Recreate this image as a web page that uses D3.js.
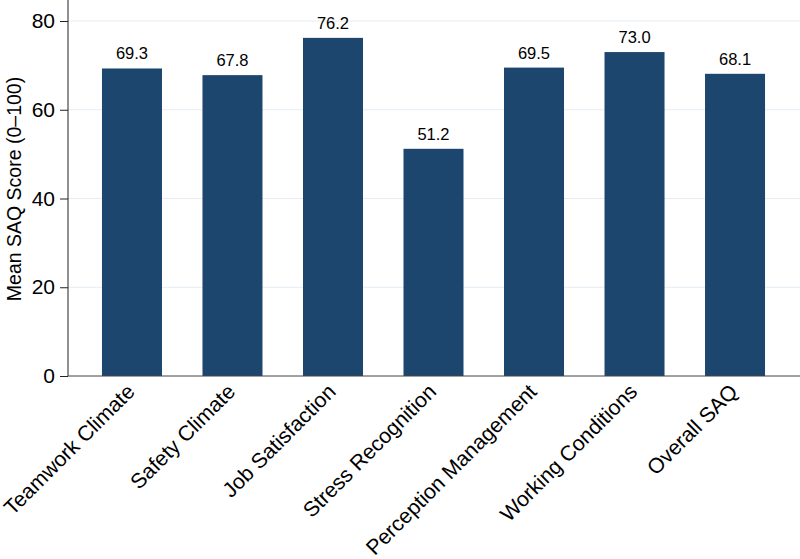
<!DOCTYPE html>
<html>
<head>
<meta charset="utf-8">
<script src="https://cdn.jsdelivr.net/npm/d3@7"></script>
<style>
  body { margin: 0; background: #fff; }
  svg text { font-family: "Liberation Sans", Arial, sans-serif; fill: #000; }
</style>
</head>
<body>
<svg class="chart" width="800" height="559"></svg>
<script>
var categories = ["Teamwork Climate", "Safety Climate", "Job Satisfaction", "Stress Recognition",
  "Perception Management", "Working Conditions", "Overall SAQ"];
var scores = [69.3, 67.8, 76.2, 51.2, 69.5, 73.0, 68.1];
var yTicks = [0, 20, 40, 60, 80];

var width = 800,
  height = 559,
  margin = { left: 68, right: 1, top: 0, bottom: 183 };

var chart = d3.select(".chart");

var x = d3.scaleBand()
  .domain(categories)
  .range([margin.left, width - margin.right])
  .paddingInner(0.403)
  .paddingOuter(0.338);

var y = d3.scaleLinear()
  .domain([0, 80])
  .range([376, 21]);

// grid lines
chart.append("g")
  .selectAll("line")
  .data(yTicks.filter(function (d) { return d > 0; }))
  .enter().append("line")
  .attr("x1", margin.left)
  .attr("x2", width)
  .attr("y1", function (d) { return y(d); })
  .attr("y2", function (d) { return y(d); })
  .attr("stroke", "#e4edf4")
  .attr("stroke-width", 1);

chart.append("g")
  .selectAll("rect")
  .data(scores)
  .enter().append("rect")
  .attr("x", function (d, i) { return x(categories[i]); })
  .attr("width", x.bandwidth())
  .attr("y", function (d) { return y(d); })
  .attr("height", function (d) { return y(0) - y(d); })
  .attr("fill", "#1d466e");

chart.append("g")
  .selectAll("text")
  .data(scores)
  .enter().append("text")
  .attr("x", function (d, i) { return x(categories[i]) + x.bandwidth() / 2; })
  .attr("y", function (d) { return y(d) - 9; })
  .attr("text-anchor", "middle")
  .style("font-size", "16.5px")
  .text(function (d) { return d.toFixed(1); });

// y axis
var yAxis = chart.append("g")
  .attr("transform", "translate(" + margin.left + ",0)")
  .call(d3.axisLeft(y).tickValues(yTicks).tickSize(8).tickPadding(5));
yAxis.select(".domain").attr("d", "M0,0V" + y(0)).attr("stroke", "#222");
yAxis.selectAll(".tick line").attr("stroke", "#222");
yAxis.selectAll(".tick text").style("font-size", "21px").attr("fill", "#000");

// x axis
var xAxis = chart.append("g")
  .attr("transform", "translate(0," + y(0) + ")")
  .call(d3.axisBottom(x).tickSize(0).tickPadding(0));
xAxis.select(".domain").attr("d", "M" + margin.left + ",0H" + width).attr("stroke", "#444");
xAxis.selectAll(".tick text")
  .style("font-size", "21.2px")
  .attr("fill", "#000")
  .attr("text-anchor", "end")
  .attr("dy", null)
  .attr("y", 0)
  .attr("transform", "translate(4,17) rotate(-45)");

chart.append("text")
  .attr("transform", "translate(21,189) rotate(-90)")
  .attr("text-anchor", "middle")
  .style("font-size", "19.5px")
  .text("Mean SAQ Score (0\u2013100)");
</script>
</body>
</html>
